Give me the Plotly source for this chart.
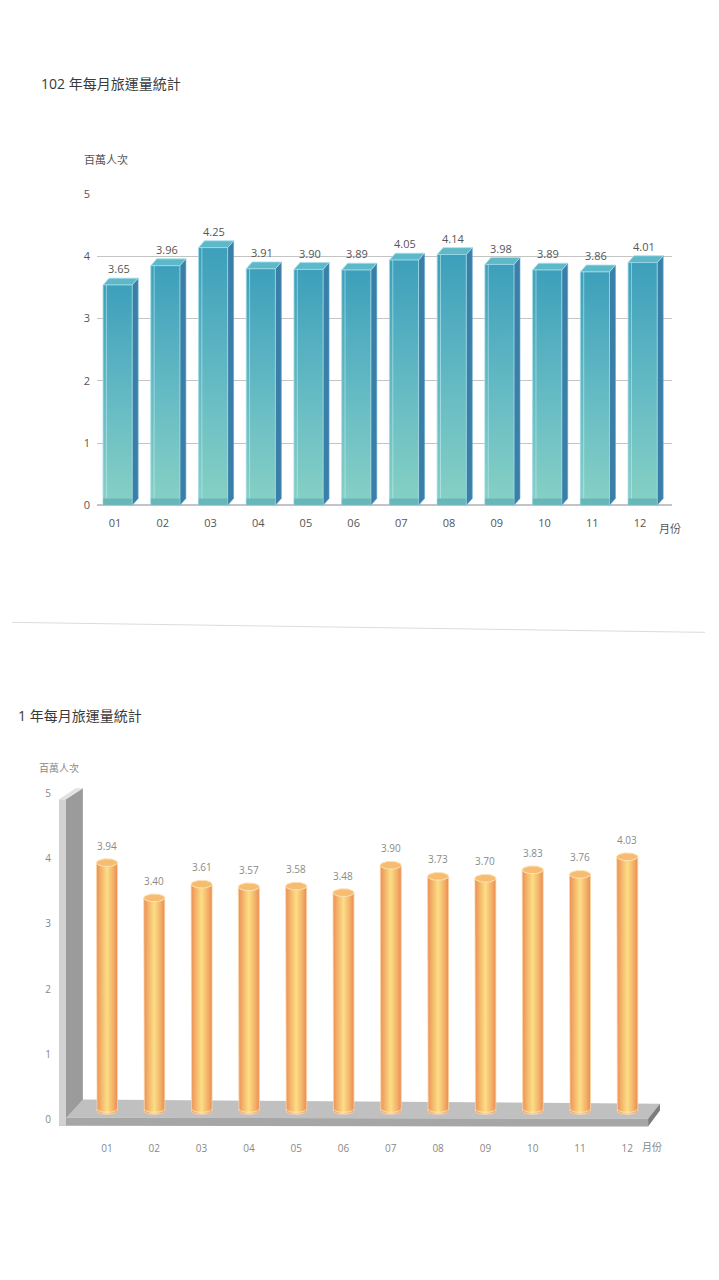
import numpy as np
import plotly.graph_objects as go

# ---------------- data ----------------
months = ["01", "02", "03", "04", "05", "06", "07", "08", "09", "10", "11", "12"]
ridership_102 = [3.65, 3.96, 4.25, 3.91, 3.90, 3.89, 4.05, 4.14, 3.98, 3.89, 3.86, 4.01]
ridership_101 = [3.94, 3.40, 3.61, 3.57, 3.58, 3.48, 3.90, 3.73, 3.70, 3.83, 3.76, 4.03]
y_ticks = [0, 1, 2, 3, 4, 5]
title_102 = "102 年每月旅運量統計"
title_101 = "1 年每月旅運量統計"
unit_label = "百萬人次"
x_unit_label = "月份"

W, H = 719, 1280
FONT = "Open Sans, Noto Sans CJK TC, sans-serif"


def px(x):
    return x / W


def py(y):
    # page-space correction (rendered page is offset/compressed slightly vertically)
    yf = (y - 8) / 0.9877
    return 1 - yf / H


fig = go.Figure()
pos = list(range(1, len(months) + 1))

# ---------------- top chart: 3D boxes (back-top edge sits at the value) ----------------
fw_l, fw_r = 0.25, 0.36   # front face extents around category
dx, dy = 0.125, 0.11      # depth offset
for c, v in zip(pos, ridership_102):
    l, r = c - fw_l, c + fw_r
    vf = v - dy  # front top edge
    # side face
    fig.add_trace(go.Scatter(
        x=[r, r + dx, r + dx, r, r], y=[0, dy, v, vf, 0],
        fill="toself", mode="lines", line=dict(width=0.6, color="#5aa6c8"),
        fillcolor="#3b7fa9", hoverinfo="skip", showlegend=False,
        xaxis="x", yaxis="y"))
    # top face
    fig.add_trace(go.Scatter(
        x=[l, r, r + dx, l + dx, l], y=[vf, vf, v, v, vf],
        fill="toself", mode="lines", line=dict(width=0.8, color="#a8e0ea"),
        fillcolor="#5db9c9", hoverinfo="skip", showlegend=False,
        xaxis="x", yaxis="y"))
    # front face with vertical gradient
    fig.add_trace(go.Scatter(
        x=[l, r, r, l, l], y=[0, 0, vf, vf, 0],
        fill="toself", mode="lines", line=dict(width=0.8, color="#9fdbe4"),
        fillgradient=dict(type="vertical",
                          colorscale=[[0, "#87d1c5"], [0.5, "#63b9c3"], [1, "#3d9fbb"]]),
        hoverinfo="skip", showlegend=False, xaxis="x", yaxis="y"))
    # highlight strip
    fig.add_trace(go.Scatter(
        x=[l + 0.07, l + 0.07], y=[dy, vf], mode="lines",
        line=dict(width=1, color="rgba(200,240,245,0.55)"),
        hoverinfo="skip", showlegend=False, xaxis="x", yaxis="y"))
    # bottom band
    fig.add_trace(go.Scatter(
        x=[l, r, r, l, l], y=[0, 0, dy, dy, 0],
        fill="toself", mode="lines", line=dict(width=0),
        fillcolor="rgba(70,150,170,0.45)", hoverinfo="skip", showlegend=False,
        xaxis="x", yaxis="y"))

annotations = []
for c, v, m in zip(pos, ridership_102, months):
    annotations.append(dict(
        x=c + 0.08, y=v, xref="x", yref="y", text=f"{v:.2f}",
        showarrow=False, yanchor="bottom", yshift=0,
        font=dict(family=FONT, size=11, color="#555555")))

# ---------------- bottom chart: cylinders ----------------
rad = 0.222
eb = 0.06
base = 0.14
t = np.linspace(0, np.pi, 30)
tf = np.linspace(0, 2 * np.pi, 60)

# wall and floor (decorations)
shapes = []
def poly(xs, ys, color, line="rgba(0,0,0,0)"):
    path = "M " + " L ".join(f"{a},{b}" for a, b in zip(xs, ys)) + " Z"
    shapes.append(dict(type="path", path=path, xref="x2", yref="y2",
                       fillcolor=color, line=dict(width=0.5, color=line), layer="below"))

# floor top face
poly([-0.015, 0.49, 12.69, 12.44], [0.03, 0.31, 0.245, 0.015], "#c0c0c0")
# floor front face
poly([-0.015, 12.44, 12.44, -0.015], [0.03, 0.015, -0.107, -0.092], "#a6a6a6")
# floor right side
poly([12.44, 12.69, 12.69, 12.44], [0.015, 0.245, 0.14, -0.107], "#7c7c7c")
# wall side (dark)
poly([0.133, 0.49, 0.49, 0.133], [4.91, 5.08, 0.31, 0.03], "#9b9b9b")
# wall front (light)
poly([-0.015, 0.133, 0.133, -0.015], [4.91, 4.91, -0.092, -0.092], "#d2d2d2")
# wall top
poly([-0.015, 0.133, 0.49, 0.34], [4.91, 4.91, 5.08, 5.08], "#e2e2e2")

for c, v in zip(pos, ridership_101):
    # body with rounded bottom
    bx = list(c - rad * np.cos(t))
    by = list(base - eb * np.sin(t))
    xs = [c - rad] + bx + [c + rad, c - rad]
    ys = [v] + by + [v, v]
    fig.add_trace(go.Scatter(
        x=xs, y=ys, fill="toself", mode="lines",
        line=dict(width=0.8, color="#fbd7a8"),
        fillgradient=dict(type="horizontal",
                          colorscale=[[0, "#ec8e55"], [0.2, "#f3b068"], [0.5, "#fbde86"],
                                      [0.8, "#f3b068"], [1, "#eb8b52"]]),
        hoverinfo="skip", showlegend=False, xaxis="x2", yaxis="y2"))
    # bottom inner rim
    fig.add_trace(go.Scatter(
        x=list(c + rad * 0.95 * np.cos(tf[:31])), y=list(base + 0.02 + eb * 0.8 * np.sin(tf[:31]) * -1),
        mode="lines", line=dict(width=1, color="rgba(255,230,190,0.8)"),
        hoverinfo="skip", showlegend=False, xaxis="x2", yaxis="y2"))
    # top ellipse
    fig.add_trace(go.Scatter(
        x=list(c + rad * np.cos(tf)), y=list(v + eb * np.sin(tf)),
        fill="toself", mode="lines", line=dict(width=1, color="#fde3b5"),
        fillcolor="#f6bd72", hoverinfo="skip", showlegend=False,
        xaxis="x2", yaxis="y2"))

for c, v in zip(pos, ridership_101):
    annotations.append(dict(
        x=c, y=v + eb, xref="x2", yref="y2", text=f"{v:.2f}",
        showarrow=False, yanchor="bottom", yshift=4,
        font=dict(family=FONT, size=10, color="#8a8a8a")))

# ---------------- text ----------------
annotations += [
    dict(x=px(39), y=py(83), xref="paper", yref="paper", text=title_102, showarrow=False,
         xanchor="left", yanchor="middle", font=dict(family=FONT, size=14, color="#3a3a3a")),
    dict(x=px(82), y=py(159), xref="paper", yref="paper", text=unit_label, showarrow=False,
         xanchor="left", yanchor="middle", font=dict(family=FONT, size=11, color="#555555")),
    dict(x=px(657), y=py(528), xref="paper", yref="paper", text=x_unit_label, showarrow=False,
         xanchor="left", yanchor="middle", font=dict(family=FONT, size=11, color="#555555")),
    dict(x=px(16), y=py(715), xref="paper", yref="paper", text=title_101, showarrow=False,
         xanchor="left", yanchor="middle", font=dict(family=FONT, size=14, color="#3a3a3a")),
    dict(x=px(37), y=py(768), xref="paper", yref="paper", text=unit_label, showarrow=False,
         xanchor="left", yanchor="middle", font=dict(family=FONT, size=10, color="#888888")),
    dict(x=px(640), y=py(1146), xref="paper", yref="paper", text=x_unit_label, showarrow=False,
         xanchor="left", yanchor="middle", font=dict(family=FONT, size=10, color="#888888")),
]

# separator line
shapes.append(dict(type="line", xref="paper", yref="paper",
                   x0=px(12), y0=py(622), x1=px(705), y1=py(632),
                   line=dict(color="#dcdcdc", width=1)))

fig.update_layout(
    width=W, height=H, autosize=False,
    margin=dict(l=0, r=0, t=0, b=0),
    paper_bgcolor="white", plot_bgcolor="rgba(0,0,0,0)",
    showlegend=False,
    annotations=annotations, shapes=shapes,
    xaxis=dict(domain=[px(97), px(672)], range=[0.623, 12.67],
               tickmode="array", tickvals=pos, ticktext=months,
               showgrid=False, zeroline=False, showline=False, ticks="",
               ticklabelstandoff=10,
               tickfont=dict(family=FONT, size=11, color="#555555"), fixedrange=True),
    yaxis=dict(domain=[py(505), py(194)], range=[0, 5],
               tickmode="array", tickvals=y_ticks,
               showgrid=True, gridcolor="#c4c4c4", gridwidth=1,
               zeroline=True, zerolinecolor="#c4c4c4", showline=False, ticks="",
               ticklabelstandoff=6,
               tickfont=dict(family=FONT, size=11, color="#555555"), fixedrange=True),
    xaxis2=dict(domain=[px(56), px(700)], range=[-0.078, 13.537], anchor="y2",
                tickmode="array", tickvals=pos, ticktext=months,
                showgrid=False, zeroline=False, showline=False, ticks="",
                ticklabelstandoff=10,
                tickfont=dict(family=FONT, size=10, color="#888888"), fixedrange=True),
    yaxis2=dict(domain=[py(1130), py(785)], range=[-0.169, 5.123], anchor="x2",
                tickmode="array", tickvals=y_ticks,
                showgrid=False, zeroline=False, showline=False, ticks="",
                ticklabelstandoff=4,
                tickfont=dict(family=FONT, size=10, color="#888888"), fixedrange=True),
)

fig.write_html("out.html", config={"displayModeBar": False},
               post_script="document.body.style.margin='0';document.body.style.overflow='hidden';")
